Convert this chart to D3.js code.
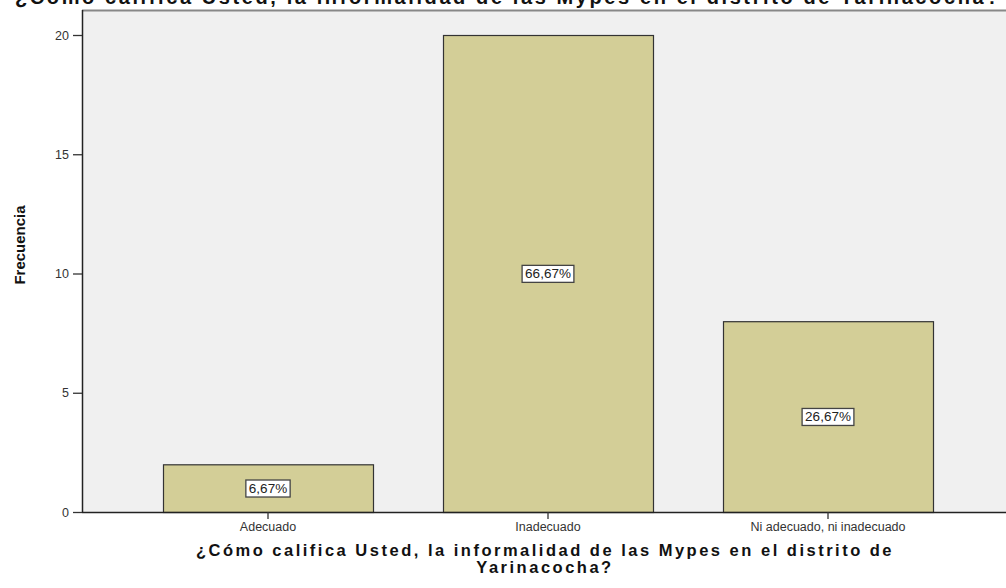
<!DOCTYPE html>
<html>
<head>
<meta charset="utf-8">
<script src="https://cdn.jsdelivr.net/npm/d3@7"></script>
<style>
  body { margin: 0; background: #fff; }
  svg { display: block; font-family: "Liberation Sans", Arial, sans-serif; }
</style>
</head>
<body>
<div class="chart"></div>
<script>

const categories = ["Adecuado", "Inadecuado", "Ni adecuado, ni inadecuado"];
const counts = [2, 20, 8];
const percents = ["6,67%", "66,67%", "26,67%"];
const yTicks = [0, 5, 10, 15, 20];
const title = "¿Cómo califica Usted, la informalidad de las Mypes en el distrito de Yarinacocha?";
const xTitle = ["¿Cómo califica Usted, la informalidad de las Mypes en el distrito de", "Yarinacocha?"];
const yTitle = "Frecuencia";

const width = 1006;
const height = 588;
const plot = { left: 82, top: 10, right: 1010, bottom: 512 };

const svg = d3.select(".chart")
	.append("svg")
		.attr("width", width)
		.attr("height", height);

const x = d3.scaleBand()
	.domain(categories)
	.range([128, 968])
	.paddingInner(0.25)
	.paddingOuter(0.125);

const y = d3.scaleLinear()
	.domain([0, 20])
	.range([plot.bottom, 35]);

// top title, clipped by the page edge like in the original
svg.append("text")
	.attr("x", 508)
	.attr("y", 4)
	.attr("text-anchor", "middle")
	.style("font-size", "20px")
	.style("font-weight", "bold")
	.style("letter-spacing", "2.6px")
	.attr("fill", "#111")
	.text(title);

// plot background
svg.append("rect")
	.attr("x", plot.left)
	.attr("y", plot.top)
	.attr("width", plot.right - plot.left)
	.attr("height", plot.bottom - plot.top)
	.attr("fill", "#f0f0f0");

svg.append("line")
	.attr("x1", plot.left).attr("x2", plot.right)
	.attr("y1", plot.top + 0.5).attr("y2", plot.top + 0.5)
	.attr("stroke", "#888").attr("stroke-width", 2);

// bars
svg.append("g")
	.selectAll("rect")
	.data(counts).enter()
	.append("rect")
		.attr("x", (d, i) => x(categories[i]) + 0.5)
		.attr("y", (d) => y(d) + 0.5)
		.attr("width", x.bandwidth())
		.attr("height", (d) => y(0) - y(d))
		.attr("fill", "#d3ce97")
		.attr("stroke", "#333")
		.attr("stroke-width", 1.2);

// axes
const yAxis = svg.append("g")
	.attr("transform", `translate(${plot.left},0)`)
	.call(d3.axisLeft(y).tickValues(yTicks).tickSize(9).tickPadding(4));

const xAxis = svg.append("g")
	.attr("transform", `translate(0,${plot.bottom})`)
	.call(d3.axisBottom(x).tickSize(7).tickPadding(3).tickSizeOuter(0));

xAxis.select(".domain").attr("d", `M${plot.left},0.5H${plot.right}`);
yAxis.select(".domain").attr("d", `M0.5,${plot.top}V${plot.bottom}`);

svg.selectAll(".domain").attr("stroke", "#222").attr("stroke-width", 1.5);
svg.selectAll(".tick line").attr("stroke", "#333").attr("stroke-width", 1.3);
svg.selectAll(".tick text")
	.attr("fill", "#333")
	.style("font-family", "\"Liberation Sans\", Arial, sans-serif")
	.style("font-size", "12.5px");

// value labels
const labels = svg.append("g")
	.selectAll("g")
	.data(counts).enter()
	.append("g")
		.attr("transform", (d, i) => `translate(${x(categories[i]) + x.bandwidth() / 2},${y(d / 2)})`);

labels.append("text")
	.attr("text-anchor", "middle")
	.attr("dy", "0.36em")
	.style("font-size", "13.5px")
	.attr("fill", "#222")
	.text((d, i) => percents[i]);

labels.each(function () {
	const g = d3.select(this);
	const bb = g.select("text").node().getBBox();
	g.insert("rect", "text")
		.attr("x", bb.x - 3)
		.attr("y", bb.y - 1)
		.attr("width", bb.width + 6)
		.attr("height", bb.height + 2)
		.attr("fill", "#fff")
		.attr("stroke", "#444")
		.attr("stroke-width", 1.3);
});

// axis titles, one text per line
svg.append("g")
	.selectAll("text")
	.data(xTitle).enter()
	.append("text")
		.attr("text-anchor", "middle")
		.attr("x", 545)
		.attr("y", (d, i) => 556 + i * 17)
		.style("font-size", "16.5px")
		.style("font-weight", "bold")
		.style("letter-spacing", "2.5px")
		.attr("fill", "#111")
		.text((d) => d);

svg.append("text")
	.attr("transform", "translate(25,245) rotate(-90)")
	.attr("text-anchor", "middle")
	.style("font-family", "\"Liberation Sans Narrow\", \"Arial Narrow\", sans-serif")
	.style("font-stretch", "condensed")
	.style("font-size", "15px")
	.style("font-weight", "bold")
	.attr("fill", "#111")
	.text(yTitle);

</script>
</body>
</html>
